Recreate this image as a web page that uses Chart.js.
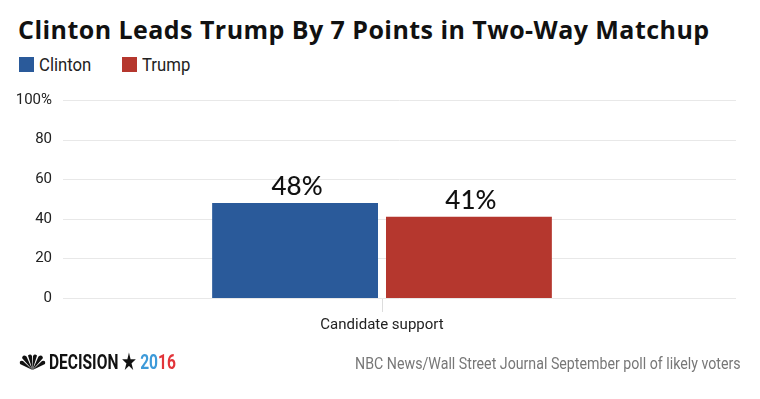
<!DOCTYPE html>
<html>
<head>
<meta charset="utf-8">
<script src="https://cdn.jsdelivr.net/npm/chart.js@4.4.1/dist/chart.umd.min.js"></script>
<style>
  html, body { margin: 0; padding: 0; background: #fff; }
  body { width: 760px; height: 399px; position: relative; overflow: hidden; font-family: Roboto, sans-serif; }
  #title { position: absolute; left: 18px; top: 12px; font: bold 25px "Open Sans", sans-serif; letter-spacing: 0.45px; color: #111; white-space: nowrap; }
  #legend { position: absolute; left: 19px; top: 53px; font-size: 19px; color: #222; display: flex; }
  #legend .item { display: flex; align-items: center; }
  #legend .sw { width: 15px; height: 15px; margin-right: 5px; }
  #legend .txt { display: inline-block; transform: scaleX(0.88); transform-origin: left center; }
  #chart { position: absolute; left: 0; top: 0; }
  #logo { position: absolute; left: 19px; top: 350px; display: flex; align-items: center; white-space: nowrap; }
  #logo .word { display: inline-block; font: bold 21px Roboto, sans-serif; transform: scaleX(0.74); transform-origin: left center; margin-left: 3px; }
  #source { position: absolute; right: 19px; top: 354px; font-size: 16px; color: #777; white-space: nowrap; transform: scaleX(0.887); transform-origin: right center; }
</style>
</head>
<body>
<div id="title">Clinton Leads Trump By 7 Points in Two-Way Matchup</div>
<div id="legend"></div>
<canvas id="chart" width="760" height="399"></canvas>
<div id="logo">
  <svg width="27" height="17" viewBox="0 0 27 17">
    <g fill="#111">
      <path d="M13.5 16 L1 10 Q0 6 4 7 Z"/>
      <path d="M13.5 16 L3 4 Q4 0 7.5 2.5 Z"/>
      <path d="M13.5 16 L9 1.5 Q11.5 -0.5 13 2 Z"/>
      <path d="M13.5 16 L14 2 Q15.5 -0.5 18 1.5 Z"/>
      <path d="M13.5 16 L19.5 2.5 Q23 0 24 4 Z"/>
      <path d="M13.5 16 L23 7 Q27 6 26 10 Z"/>
    </g>
  </svg>
  <span class="word"><span style="color:#111">DECISION</span> <span style="color:#111">&#9733;</span> <span style="color:#3d9ad9">20</span><span style="color:#e2353a">16</span></span>
</div>
<div id="source">NBC News/Wall Street Journal September poll of likely voters</div>
<script>
const categories = ["Candidate support"];
const seriesNames = ["Clinton", "Trump"];
const clintonValues = [48];
const trumpValues = [41];
const seriesColors = ["#2a5a9a", "#b5372e"];
const yTicks = [0, 20, 40, 60, 80, 100];

// legend from the series
const legend = document.getElementById("legend");
const legendGaps = [24, 0];
seriesNames.forEach(function (name, i) {
    const item = document.createElement("div");
    item.className = "item";
    item.style.marginRight = legendGaps[i] + "px";
    item.innerHTML = '<div class="sw" style="background:' + seriesColors[i] + '"></div><span class="txt">' + name + '</span>';
    legend.appendChild(item);
});

// horizontal grid lines, running a bit past the plot on the right
const gridPlugin = {
    id: "grid",
    beforeDatasetsDraw(chart) {
        const ctx = chart.ctx;
        const area = chart.chartArea;
        const y = chart.scales.y;
        ctx.save();
        ctx.strokeStyle = "#e8e8e8";
        ctx.lineWidth = 1;
        yTicks.forEach(function (v) {
            const py = Math.round(y.getPixelForValue(v)) + 0.5;
            ctx.beginPath();
            ctx.moveTo(area.left, py);
            ctx.lineTo(area.right + 35, py);
            ctx.stroke();
        });
        ctx.restore();
    }
};

// value labels over the bars
const labelPlugin = {
    id: "labels",
    afterDatasetsDraw(chart) {
        const ctx = chart.ctx;
        ctx.save();
        ctx.font = "500 26px Lato, sans-serif";
        ctx.fillStyle = "#111";
        ctx.textAlign = "center";
        ctx.textBaseline = "alphabetic";
        chart.data.datasets.forEach(function (ds, i) {
            chart.getDatasetMeta(i).data.forEach(function (bar, j) {
                ctx.fillText(ds.data[j] + "%", bar.x + 2, bar.y - 8);
            });
        });
        ctx.restore();
    }
};

new Chart(document.getElementById("chart"), {
    type: "bar",
    data: {
        labels: categories,
        datasets: [
            { label: seriesNames[0], data: clintonValues, backgroundColor: seriesColors[0] },
            { label: seriesNames[1], data: trumpValues, backgroundColor: seriesColors[1] }
        ]
    },
    options: {
        responsive: false,
        animation: false,
        categoryPercentage: 0.545,
        barPercentage: 0.954,
        layout: { padding: { top: 100, left: 0, right: 59, bottom: 0 } },
        plugins: { legend: { display: false }, tooltip: { enabled: false } },
        scales: {
            x: {
                afterFit: function (scale) { scale.height = 101; },
                border: { display: false },
                grid: { offset: false, drawOnChartArea: false, drawTicks: true, tickLength: 14, color: "#dddddd" },
                ticks: { color: "#222", padding: 4, font: { family: "Roboto, sans-serif", size: 15 } }
            },
            y: {
                min: 0,
                max: 100,
                afterFit: function (scale) { scale.width = 63; },
                afterBuildTicks: function (scale) { scale.ticks = yTicks.map(function (v) { return { value: v }; }); },
                border: { display: false },
                grid: { display: false, drawTicks: false },
                ticks: {
                    color: "#222",
                    padding: 11,
                    font: { family: "Roboto, sans-serif", size: 15 },
                    callback: function (v) { return v === 100 ? "100%" : v; }
                }
            }
        }
    },
    plugins: [gridPlugin, labelPlugin]
});
</script>
</body>
</html>
